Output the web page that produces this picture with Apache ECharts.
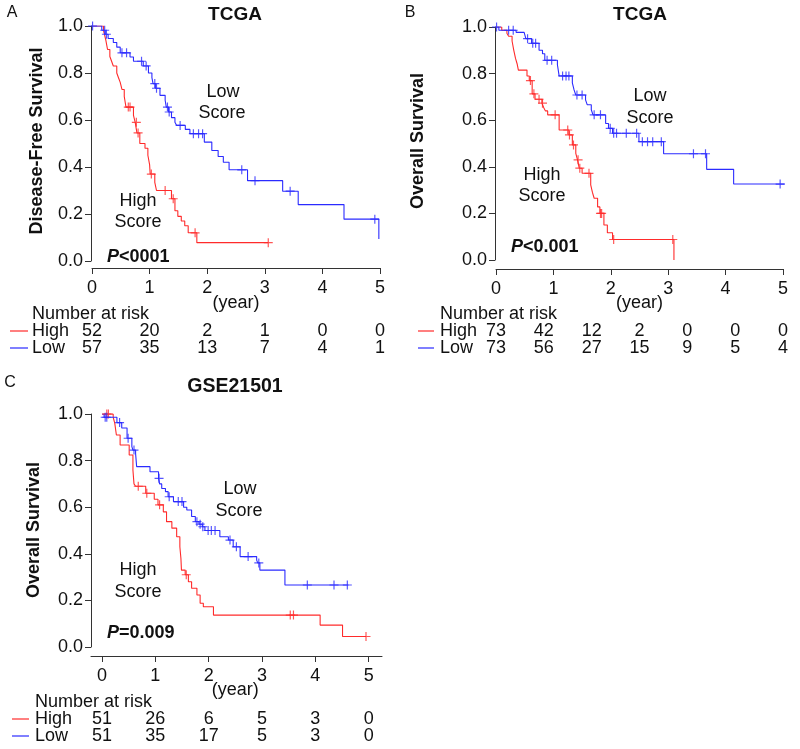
<!DOCTYPE html>
<html><head><meta charset="utf-8">
<script src="https://cdn.jsdelivr.net/npm/echarts@6/dist/echarts.min.js"></script>
<style>html,body{margin:0;padding:0;background:#fff}#c{width:800px;height:749px}</style>
</head><body><div id="c"></div>
<script>
// ---------- Panel A (TCGA, Disease-Free Survival) ----------
const A_high_t = [0.20,0.22,0.24,0.27,0.31,0.34,0.37,0.43,0.46,0.49,0.52,0.56,0.59,0.72,0.75,0.78,0.83,0.92,0.97,1.00,1.01,1.09,1.12,1.38,1.44,1.49,1.55,1.61,1.67,1.82];
const A_high_s = [0.98,0.96,0.94,0.90,0.87,0.85,0.83,0.80,0.78,0.76,0.73,0.70,0.655,0.62,0.59,0.545,0.50,0.48,0.45,0.41,0.37,0.335,0.30,0.265,0.214,0.19,0.17,0.15,0.12,0.078];
const A_high_cens = [0.63,0.66,0.77,0.80,1.03,1.27,1.41,1.79,3.06];
const A_high_end = 3.06;
const A_low_t = [0.17,0.23,0.28,0.37,0.43,0.49,0.66,0.72,0.89,0.98,1.04,1.06,1.10,1.18,1.27,1.29,1.33,1.38,1.44,1.47,1.62,1.70,1.95,2.08,2.19,2.28,2.38,2.70,3.31,3.58,4.375,4.98];
const A_low_s = [0.982,0.965,0.947,0.93,0.91,0.886,0.868,0.85,0.83,0.80,0.78,0.755,0.735,0.705,0.684,0.655,0.634,0.61,0.59,0.577,0.56,0.542,0.506,0.47,0.445,0.42,0.388,0.342,0.297,0.24,0.178,0.094];
const A_low_cens = [0.01,0.22,0.25,0.52,0.60,0.86,0.94,1.09,1.12,1.31,1.34,1.53,1.76,1.85,1.92,2.60,2.83,3.44,4.91];
const A_low_end = 4.98;
const riskA_times = [0,1,2,3,4,5];
const riskA_high = [52,20,2,1,0,0];
const riskA_low = [57,35,13,7,4,1];

// ---------- Panel B (TCGA, Overall Survival) ----------
const B_high_t = [0.10,0.19,0.22,0.28,0.31,0.34,0.37,0.39,0.54,0.58,0.63,0.68,0.80,0.83,0.86,0.90,1.10,1.27,1.33,1.39,1.42,1.45,1.50,1.65,1.68,1.71,1.77,1.81,1.88,1.94,2.03,3.10];
const B_high_s = [0.986,0.973,0.96,0.94,0.90,0.865,0.84,0.815,0.79,0.77,0.713,0.69,0.673,0.655,0.64,0.623,0.558,0.537,0.494,0.458,0.43,0.394,0.372,0.322,0.29,0.265,0.228,0.20,0.15,0.117,0.088,0.0];
const B_high_cens = [0.60,0.66,0.75,0.81,1.03,1.25,1.28,1.35,1.43,1.46,1.62,1.82,1.84,2.05,3.08];
const B_high_end = 3.10;
const B_low_t = [0.05,0.35,0.49,0.52,0.62,0.75,0.81,0.85,1.07,1.10,1.33,1.36,1.39,1.56,1.59,1.66,1.69,1.91,1.96,2.03,2.49,2.92,3.67,4.14];
const B_low_s = [0.986,0.977,0.97,0.95,0.93,0.90,0.885,0.857,0.838,0.79,0.76,0.73,0.708,0.687,0.666,0.645,0.623,0.586,0.565,0.544,0.508,0.456,0.389,0.326];
const B_low_cens = [0.01,0.22,0.30,0.55,0.64,0.69,0.89,0.97,1.16,1.22,1.27,1.41,1.50,1.71,1.82,1.99,2.05,2.10,2.27,2.45,2.55,2.64,2.73,2.88,3.44,3.65,4.95];
const B_low_end = 5.03;
const riskB_times = [0,0.833,1.667,2.5,3.333,4.167,5];
const riskB_high = [73,42,12,2,0,0,0];
const riskB_low = [73,56,27,15,9,5,4];

// ---------- Panel C (GSE21501, Overall Survival) ----------
const C_high_t = [0.21,0.24,0.27,0.34,0.51,0.58,0.60,0.63,0.82,0.98,1.05,1.15,1.21,1.31,1.40,1.46,1.48,1.49,1.56,1.62,1.68,1.78,1.84,1.90,2.09,4.09,4.51];
const C_high_s = [0.986,0.96,0.91,0.867,0.824,0.76,0.70,0.69,0.66,0.634,0.61,0.58,0.538,0.51,0.473,0.43,0.38,0.33,0.31,0.28,0.252,0.223,0.188,0.173,0.137,0.094,0.045];
const C_high_cens = [0.09,0.12,0.68,0.84,1.08,1.58,3.53,3.59,4.95];
const C_high_end = 4.95;
const C_low_t = [0.04,0.28,0.37,0.47,0.56,0.58,0.63,0.65,0.90,1.06,1.08,1.12,1.19,1.24,1.34,1.53,1.59,1.68,1.75,1.82,1.88,1.93,2.21,2.37,2.46,2.59,2.90,2.92,2.96,3.43];
const C_low_s = [0.986,0.963,0.94,0.896,0.86,0.845,0.83,0.774,0.752,0.724,0.70,0.68,0.667,0.645,0.624,0.60,0.588,0.56,0.538,0.527,0.516,0.50,0.473,0.459,0.43,0.388,0.373,0.361,0.33,0.266];
const C_low_cens = [0.06,0.09,0.33,0.49,0.60,1.07,1.26,1.43,1.50,1.78,1.84,1.89,1.99,2.05,2.12,2.40,2.52,2.74,2.94,3.85,4.35,4.60];
const C_low_end = 4.62;
const riskC_times = [0,1,2,3,4,5];
const riskC_high = [51,26,6,5,3,0];
const riskC_low = [51,35,17,5,3,0];

const xTicks = [0,1,2,3,4,5];

// ---------- rendering ----------
const FONT = '"Liberation Sans", Arial, Helvetica, sans-serif';
const RED = '#ff2b2b', BLUE = '#2b2bff', AX = '#333';
const PLUS = 'path://M-1,-0.13L1,-0.13L1,0.13L-1,0.13Z M-0.13,-1L0.13,-1L0.13,1L-0.13,1Z';

function steps(t, s, end) {
  const d = [[0, 1]];
  for (let i = 0; i < t.length; i++) d.push([t[i], s[i]]);
  if (end > t[t.length - 1]) d.push([end, s[s.length - 1]]);
  return d;
}
function survAt(t, s, x) { let v = 1; for (let i = 0; i < t.length; i++) if (t[i] <= x) v = s[i]; return v; }
function cens(t, s, c) { return c.map(x => [x, survAt(t, s, x)]); }

function xAx(grid, min, max, offset) {
  return {
    gridIndex: grid, type: 'value', min, max, offset,
    splitLine: { show: false },
    axisLine: { show: true, onZero: false, lineStyle: { color: AX, width: 1 } },
    axisTick: { show: true, inside: false, length: 6, lineStyle: { color: AX }, customValues: xTicks },
    axisLabel: { fontSize: 18, color: '#111', fontFamily: FONT, margin: 11, customValues: xTicks }
  };
}
function yAx(grid, offset) {
  return {
    gridIndex: grid, type: 'value', min: 0, max: 1, interval: 0.2, offset,
    splitLine: { show: false },
    axisLine: { show: true, onZero: false, lineStyle: { color: AX, width: 1 } },
    axisTick: { show: true, inside: false, length: 6, lineStyle: { color: AX } },
    axisLabel: { fontSize: 18, color: '#111', fontFamily: FONT, margin: 8, formatter: v => v.toFixed(1) }
  };
}
function lineS(i, data, color) {
  return { type: 'line', xAxisIndex: i, yAxisIndex: i, data, step: 'end', symbol: 'none',
    lineStyle: { color, width: 1.1 }, itemStyle: { color }, silent: true, animation: false, z: 2 };
}
function censS(i, data, color) {
  return { type: 'scatter', xAxisIndex: i, yAxisIndex: i, data, symbol: PLUS, symbolSize: 9,
    itemStyle: { color }, silent: true, animation: false, z: 3 };
}

const chart = echarts.init(document.getElementById('c'), null, { renderer: 'canvas' });
chart.setOption({
  backgroundColor: '#fff',
  animation: false,
  grid: [
    { left: 92, top: 26, width: 288, height: 235 },
    { left: 496, top: 27, width: 287, height: 233 },
    { left: 91, top: 414, width: 291, height: 233 }
  ],
  xAxis: [xAx(0, 0, 5, 7), xAx(1, 0, 5, 9), xAx(2, -0.206, 5.25, 9)],
  yAxis: [yAx(0, 1), yAx(1, 1), yAx(2, 0)],
  series: [
    lineS(0, steps(A_high_t, A_high_s, A_high_end), RED),
    lineS(0, steps(A_low_t, A_low_s, A_low_end), BLUE),
    censS(0, cens(A_high_t, A_high_s, A_high_cens), RED),
    censS(0, cens(A_low_t, A_low_s, A_low_cens), BLUE),
    lineS(1, steps(B_high_t, B_high_s, B_high_end), RED),
    lineS(1, steps(B_low_t, B_low_s, B_low_end), BLUE),
    censS(1, cens(B_high_t, B_high_s, B_high_cens), RED),
    censS(1, cens(B_low_t, B_low_s, B_low_cens), BLUE),
    lineS(2, steps(C_high_t, C_high_s, C_high_end), RED),
    lineS(2, steps(C_low_t, C_low_s, C_low_end), BLUE),
    censS(2, cens(C_high_t, C_high_s, C_high_cens), RED),
    censS(2, cens(C_low_t, C_low_s, C_low_cens), BLUE)
  ]
});

function T(x, y, text, o) {
  o = o || {};
  return { type: 'text', x, y, rotation: o.rot || 0, silent: true, z: 10,
    style: { text, fill: '#111', fontSize: o.size || 18, fontWeight: o.bold ? 'bold' : 'normal',
      fontFamily: FONT, align: o.align || 'center', verticalAlign: 'middle', rich: o.rich } };
}
function L(x1, x2, y, color) {
  return { type: 'line', silent: true, z: 10, shape: { x1, y1: y, x2, y2: y }, style: { stroke: color, lineWidth: 1.2 } };
}
const richP = { i: { fontStyle: 'italic', fontWeight: 'bold', fontSize: 18, fontFamily: FONT, fill: '#111' },
                b: { fontWeight: 'bold', fontSize: 18, fontFamily: FONT, fill: '#111' } };

const g = [];
g.push(T(12, 13, 'A', { size: 16 }), T(410, 13, 'B', { size: 16 }), T(10, 383, 'C', { size: 16 }));
g.push(T(235, 15, 'TCGA', { bold: true, size: 19 }), T(640, 15, 'TCGA', { bold: true, size: 19 }), T(235, 387, 'GSE21501', { bold: true, size: 19.5 }));
g.push(T(37, 141, 'Disease-Free Survival', { bold: true, rot: Math.PI / 2 }));
g.push(T(418, 141, 'Overall Survival', { bold: true, rot: Math.PI / 2 }));
g.push(T(34, 530, 'Overall Survival', { bold: true, rot: Math.PI / 2 }));
g.push(T(223, 92, 'Low'), T(222, 113, 'Score'), T(138, 201, 'High'), T(138, 222, 'Score'));
g.push(T(650, 96, 'Low'), T(650, 118, 'Score'), T(542, 175, 'High'), T(542, 196, 'Score'));
g.push(T(240, 489, 'Low'), T(239, 511, 'Score'), T(138, 570, 'High'), T(138, 592, 'Score'));
g.push(T(107, 257, '{i|P}{b|<0001}', { align: 'left', rich: richP }));
g.push(T(511, 247, '{i|P}{b|<0.001}', { align: 'left', rich: richP }));
g.push(T(107, 633, '{i|P}{b|=0.009}', { align: 'left', rich: richP }));

function riskTable(axis, times, high, low, yYear, yNum, yHigh, yLow, labelX, legX1, legX2) {
  const px0 = chart.convertToPixel({ xAxisIndex: axis }, 0);
  const px5 = chart.convertToPixel({ xAxisIndex: axis }, 5);
  g.push(T((px0 + px5) / 2, yYear, '(year)'));
  g.push(T(labelX, yNum, 'Number at risk', { align: 'left' }));
  g.push(L(legX1, legX2, yHigh, RED), L(legX1, legX2, yLow, BLUE));
  g.push(T(labelX, yHigh, 'High', { align: 'left' }), T(labelX, yLow, 'Low', { align: 'left' }));
  times.forEach((t, i) => {
    const px = chart.convertToPixel({ xAxisIndex: axis }, t);
    g.push(T(px, yHigh, String(high[i])), T(px, yLow, String(low[i])));
  });
}
riskTable(0, riskA_times, riskA_high, riskA_low, 303, 314, 331, 348, 32, 10, 28);
riskTable(1, riskB_times, riskB_high, riskB_low, 303, 314, 331, 348, 440, 418, 434);
riskTable(2, riskC_times, riskC_high, riskC_low, 690, 702, 719, 736, 35, 12, 29);

chart.setOption({ graphic: g });
</script>
</body></html>
